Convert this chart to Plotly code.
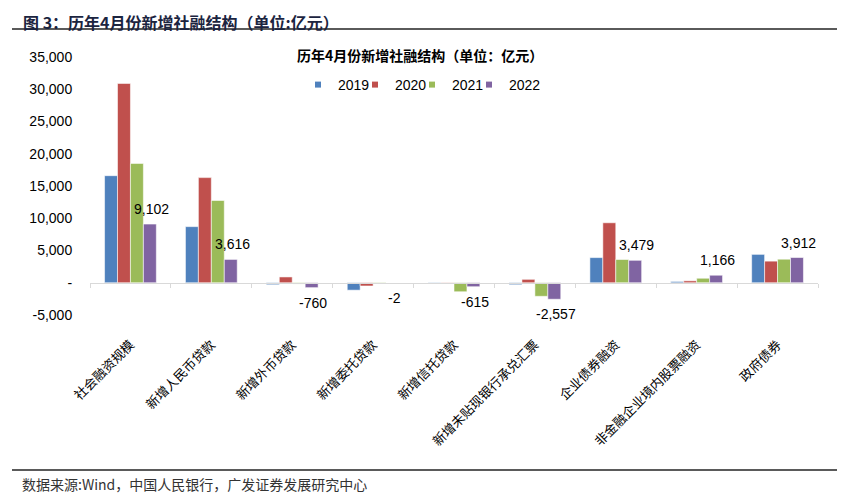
import plotly.graph_objects as go

# ---------------- data ----------------
categories = ["社会融资规模", "新增人民币贷款", "新增外币贷款", "新增委托贷款", "新增信托贷款",
              "新增未贴现银行承兑汇票", "企业债券融资", "非金融企业境内股票融资", "政府债券"]
years = ["2019", "2020", "2021", "2022"]
v2019 = [16600, 8700, -300, -1150, 60, -300, 3900, 200, 4400]
v2020 = [30900, 16300, 900, -500, -40, 530, 9300, 300, 3350]
v2021 = [18500, 12750, -200, -150, -1395, -2100, 3600, 700, 3650]
v2022 = [9102, 3616, -760, -2, -615, -2557, 3479, 1166, 3912]
series = [v2019, v2020, v2021, v2022]
colors = ["#4F81BD", "#C0504D", "#9BBB59", "#8064A2"]
ytick_vals = [-5000, 0, 5000, 10000, 15000, 20000, 25000, 30000, 35000]
ytick_text = ["-5,000", "-", "5,000", "10,000", "15,000", "20,000", "25,000", "30,000", "35,000"]

main_title = "图 3：历年4月份新增社融结构（单位:亿元）"
chart_title = "历年4月份新增社融结构（单位：亿元）"
source_text = "数据来源:Wind，中国人民银行，广发证券发展研究中心"

# ---------------- layout helpers ----------------
OFF = 8                      # page body margin of the html output
W, H = 845 - OFF, 500 - OFF
PL, PR, PT, PB = 90, 818, 57, 315          # plot area in screen pixels
L, R, T, B = PL - OFF, W - (PR - OFF), PT - OFF, H - (PB - OFF)
PW, PH = W - L - R, H - T - B


def px(x):
    return (x - OFF - L) / PW


def py(y):
    return (H - B - (y - OFF)) / PH


NUM_FONT = "Liberation Sans, Arial, sans-serif"
CJK_FONT = "Noto Sans CJK SC, sans-serif"

fig = go.Figure()
for name, vals, col in zip(years, series, colors):
    fig.add_trace(go.Bar(
        x=categories, y=vals, name=name, showlegend=False,
        marker=dict(color=col, line=dict(color="rgba(255,255,255,0.55)", width=1)),
    ))
for i, (name, col) in enumerate(zip(years, colors)):
    fig.add_trace(go.Scatter(
        x=[None], y=[None], mode="markers", name=name, showlegend=True,
        legendwidth=12 if i < len(years) - 1 else None,
        marker=dict(symbol="square", size=6, color=col),
    ))

# helper trace for the zero-line axis
fig.add_trace(go.Scatter(x=categories, y=[None] * len(categories), xaxis="x2", yaxis="y",
                         showlegend=False, hoverinfo="skip", mode="markers"))

# data labels for 2022
for cat, v in zip(categories, v2022):
    fig.add_annotation(
        x=cat, y=v, xref="x", yref="y", text=f"{v:,}", showarrow=False,
        xshift=21, yshift=15 if v >= 0 else -15,
        font=dict(family=NUM_FONT, size=14, color="#000000"),
    )

# titles and footer
fig.add_annotation(x=px(22), y=py(8.5), xref="paper", yref="paper", xanchor="left", yanchor="top",
                   text=f"<b>{main_title}</b>", showarrow=False, borderpad=0,
                   font=dict(family=CJK_FONT, size=16, color="#1B2440"))
fig.add_annotation(x=px(420), y=py(55), xref="paper", yref="paper", xanchor="center", yanchor="middle",
                   text=f"<b>{chart_title}</b>", showarrow=False,
                   font=dict(family=CJK_FONT, size=14, color="#000000"))
fig.add_annotation(x=px(20), y=py(484), xref="paper", yref="paper", xanchor="left", yanchor="middle",
                   text=source_text, showarrow=False,
                   font=dict(family=CJK_FONT, size=14, color="#333333"))

fig.add_shape(type="line", xref="paper", yref="paper", x0=px(12), x1=px(838), y0=py(29), y1=py(29),
              line=dict(color="#5A5A5A", width=2))
fig.add_shape(type="line", xref="paper", yref="paper", x0=px(12), x1=px(838), y0=py(470), y1=py(470),
              line=dict(color="#5A5A5A", width=2))

fig.update_layout(
    width=W, height=H,
    margin=dict(l=L, r=R, t=T, b=B, pad=0),
    paper_bgcolor="white", plot_bgcolor="white",
    barmode="group", bargap=0.36, bargroupgap=0,
    showlegend=True,
    legend=dict(orientation="h", x=px(298), xanchor="left", y=py(85), yanchor="middle",
                font=dict(family=NUM_FONT, size=14, color="#000000"),
                bgcolor="rgba(0,0,0,0)", itemwidth=30, traceorder="normal"),
    xaxis=dict(type="category", categoryorder="array", categoryarray=categories,
               range=[-0.5, len(categories) - 0.5],
               showline=False, showgrid=False, zeroline=False,
               ticks="outside", ticklen=16, tickcolor="rgba(0,0,0,0)", tickangle=-45,
               tickfont=dict(family=CJK_FONT, size=13, color="#000000")),
    xaxis2=dict(type="category", categoryorder="array", categoryarray=categories,
                range=[-0.5, len(categories) - 0.5], overlaying="x", anchor="free",
                position=5000 / 40000, showline=True, linecolor="#D9D9D9", linewidth=1,
                ticks="outside", tickson="boundaries", ticklen=4, tickcolor="#D9D9D9",
                showticklabels=False, showgrid=False, zeroline=False),
    yaxis=dict(range=[-5000, 35000], tickvals=ytick_vals, ticktext=ytick_text,
               showline=False, showgrid=False, zeroline=False,
               ticks="outside", ticklen=14, tickcolor="rgba(0,0,0,0)",
               tickfont=dict(family=NUM_FONT, size=14, color="#000000")),
)

fig.write_html("out.html")
